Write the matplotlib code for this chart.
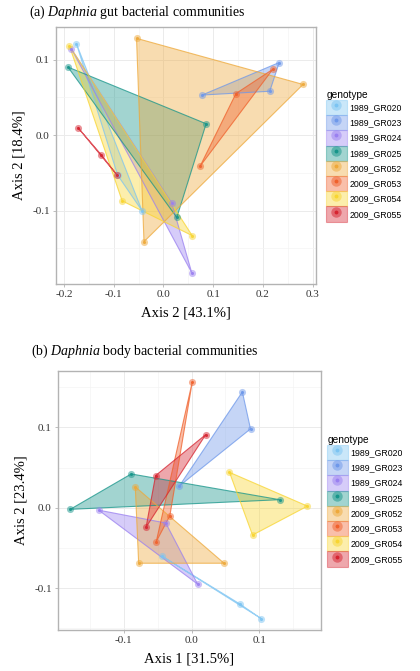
import matplotlib
matplotlib.use('Agg')
import matplotlib.pyplot as plt
from matplotlib.patches import Polygon, Patch
from matplotlib.lines import Line2D
from matplotlib.ticker import MultipleLocator

plt.rcParams['font.family'] = ['Liberation Serif', 'DejaVu Serif']
plt.rcParams['mathtext.fontset'] = 'custom'
plt.rcParams['mathtext.rm'] = 'Liberation Serif'
plt.rcParams['mathtext.it'] = 'Liberation Serif:italic'

# genotypes and colours
genotypes = ['1989_GR020', '1989_GR023', '1989_GR024', '1989_GR025',
             '2009_GR052', '2009_GR053', '2009_GR054', '2009_GR055']
colors = ['#7cc4f2', '#6e98ea', '#9a80f0', '#17958a',
          '#eea93a', '#f0612c', '#f8d531', '#d62430']

# (a) gut: three samples per genotype
gut_x = [[-0.175, -0.092, -0.043],
         [0.233, 0.078, 0.214],
         [-0.185, 0.017, 0.057],
         [-0.192, 0.086, 0.027],
         [-0.054, 0.281, -0.039],
         [0.220, 0.146, 0.074],
         [-0.189, -0.083, 0.058],
         [-0.172, -0.125, -0.093]]
gut_y = [[0.121, -0.053, -0.100],
         [0.096, 0.053, 0.058],
         [0.114, -0.090, -0.182],
         [0.090, 0.015, -0.109],
         [0.128, 0.067, -0.141],
         [0.087, 0.055, -0.041],
         [0.118, -0.087, -0.133],
         [0.010, -0.026, -0.053]]

# (b) body
body_x = [[-0.044, 0.072, 0.103],
          [0.075, 0.087, -0.018],
          [-0.137, 0.009, -0.038],
          [-0.179, -0.089, 0.130],
          [-0.083, -0.078, 0.048],
          [0.001, -0.032, -0.052],
          [0.056, 0.171, 0.090],
          [0.021, -0.053, -0.067]]
body_y = [[-0.060, -0.120, -0.138],
          [0.144, 0.098, 0.027],
          [-0.003, -0.095, -0.019],
          [-0.002, 0.042, 0.010],
          [0.026, -0.069, -0.069],
          [0.156, -0.010, -0.042],
          [0.044, 0.002, -0.034],
          [0.091, 0.040, -0.024]]


def draw_panel(ax, xs, ys, xlim, ylim, xticks, yticks):
    for gx, gy, c in zip(xs, ys, colors):
        pts = list(zip(gx, gy))
        ax.add_patch(Polygon(pts, closed=True, facecolor=c, alpha=0.4,
                             edgecolor='none', zorder=2))
        ax.add_patch(Polygon(pts, closed=True, facecolor='none',
                             edgecolor=c, alpha=0.75, lw=0.8, zorder=3))
        ax.scatter(gx, gy, s=26, color=c, alpha=0.5, lw=0, zorder=4)
        ax.scatter(gx, gy, s=5, color=c, alpha=0.9, lw=0, zorder=5)
    ax.set_xlim(*xlim)
    ax.set_ylim(*ylim)
    ax.set_xticks(xticks)
    ax.set_yticks(yticks)
    ax.set_xticklabels([f'{v:.1f}' for v in xticks])
    ax.set_yticklabels([f'{v:.1f}' for v in yticks])
    ax.xaxis.set_minor_locator(MultipleLocator(0.05))
    ax.yaxis.set_minor_locator(MultipleLocator(0.05))
    ax.grid(True, which='major', color='#ebebeb', lw=0.7, zorder=0)
    ax.grid(True, which='minor', color='#f4f4f4', lw=0.5, zorder=0)
    ax.set_axisbelow(True)
    for sp in ax.spines.values():
        sp.set_color('#b3b3b3')
        sp.set_linewidth(1.0)
    ax.tick_params(which='major', length=2.5, width=0.6, color='#b3b3b3',
                   labelsize=8, labelcolor='#333333', pad=2)
    ax.tick_params(which='minor', length=0)


def add_legend(fig, x, y):
    handles = []
    for c in colors:
        box = Patch(facecolor=c, alpha=0.4, edgecolor=c, lw=0.8)
        halo = Line2D([], [], marker='o', ls='none', ms=7.5, color=c,
                      alpha=0.5, mew=0)
        dot = Line2D([], [], marker='o', ls='none', ms=2.8, color=c, mew=0)
        handles.append((box, halo, dot))
    leg = fig.legend(handles, genotypes, loc='upper left',
                     bbox_to_anchor=(x, y), frameon=False,
                     title='genotype', alignment='left',
                     prop={'family': 'Liberation Sans', 'size': 6.3},
                     handlelength=2.3, handleheight=2.3, labelspacing=0.0,
                     handletextpad=0.3, borderpad=0.5, borderaxespad=0)
    leg.get_title().set_fontfamily('Liberation Sans')
    leg.get_title().set_fontsize(7.3)
    return leg


fig = plt.figure(figsize=(4.2, 6.71), dpi=100)
W, H = 420, 671

ax1 = fig.add_axes([56 / W, 1 - 284 / H, 260 / W, 257 / H])
draw_panel(ax1, gut_x, gut_y, (-0.216, 0.307), (-0.197, 0.143),
           [-0.2, -0.1, 0.0, 0.1, 0.2, 0.3], [-0.1, 0.0, 0.1])
ax1.set_xlabel('Axis 2 [43.1%]', fontsize=10.5, labelpad=5)
ax1.set_ylabel('Axis 2 [18.4%]', fontsize=10.5, labelpad=5)
fig.text(29 / W, 1 - 12 / H, r'(a) $\mathit{Daphnia}$ gut bacterial communities',
         fontsize=10, va='center', ha='left')

ax2 = fig.add_axes([58 / W, 1 - 630 / H, 263 / W, 259 / H])
draw_panel(ax2, body_x, body_y, (-0.197, 0.191), (-0.152, 0.170),
           [-0.1, 0.0, 0.1], [-0.1, 0.0, 0.1])
ax2.set_xlabel('Axis 1 [31.5%]', fontsize=10.5, labelpad=5)
ax2.set_ylabel('Axis 2 [23.4%]', fontsize=10.5, labelpad=5)
fig.text(31 / W, 1 - 351 / H, r'(b) $\mathit{Daphnia}$ body bacterial communities',
         fontsize=10, va='center', ha='left')

add_legend(fig, 322 / W, 1 - 85.5 / H)
add_legend(fig, 323 / W, 1 - 430.5 / H)

fig.savefig('out.png', dpi=100)
